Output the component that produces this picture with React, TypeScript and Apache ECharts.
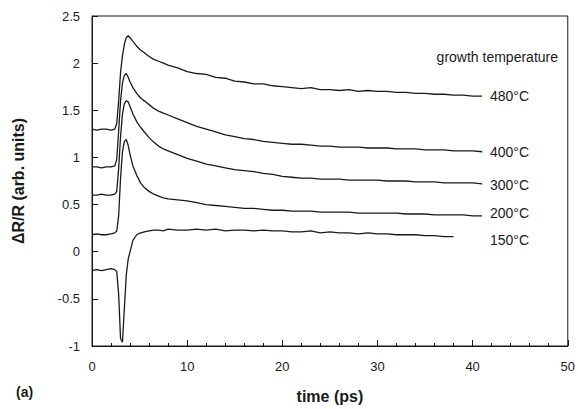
import React, { useEffect, useRef } from "react";
import * as echarts from "echarts";

const time = [0, 0.5, 1, 1.5, 2, 2.4, 2.6, 2.8, 3.0, 3.2, 3.4, 3.6, 3.8, 4.0, 4.3, 4.7, 5.1, 5.5, 6, 6.5, 7, 7.5, 8, 9, 10,
  11, 12, 13, 14, 15, 16, 17, 18, 19, 20, 21, 22, 23, 24, 25, 26, 27, 28, 29, 30, 31, 32, 33, 34, 35, 36, 37, 38, 39, 40, 41];

const r480 = [1.30, 1.29, 1.30, 1.30, 1.29,
  1.30, 1.36, 1.60, 1.90, 2.08, 2.20, 2.27, 2.29, 2.27, 2.23, 2.18, 2.14, 2.11, 2.07, 2.04, 2.02, 2.00, 1.98, 1.95, 1.91,
  1.89, 1.88, 1.85, 1.84, 1.81, 1.80, 1.78, 1.78, 1.76, 1.75, 1.74, 1.73, 1.74, 1.72, 1.72, 1.71, 1.72, 1.70, 1.71, 1.70, 1.70, 1.69, 1.69, 1.68, 1.68, 1.67, 1.67, 1.66, 1.66, 1.65, 1.65];

const r400 = [0.90, 0.90, 0.89, 0.90, 0.90,
  0.91, 0.98, 1.28, 1.60, 1.79, 1.87, 1.89, 1.85, 1.80, 1.74, 1.68, 1.63, 1.60, 1.56, 1.52, 1.49, 1.47, 1.45, 1.41, 1.37,
  1.33, 1.30, 1.27, 1.24, 1.22, 1.20, 1.19, 1.17, 1.16, 1.15, 1.14, 1.14, 1.13, 1.12, 1.12, 1.11, 1.11, 1.11, 1.10, 1.10, 1.10, 1.09, 1.09, 1.09, 1.08, 1.08, 1.08, 1.07, 1.07, 1.07, 1.06];

const r300 = [0.60, 0.60, 0.61, 0.60, 0.60,
  0.61, 0.64, 0.88, 1.22, 1.46, 1.57, 1.60, 1.59, 1.54, 1.46, 1.38, 1.32, 1.27, 1.21, 1.16, 1.12, 1.09, 1.07, 1.03, 0.99,
  0.96, 0.93, 0.91, 0.89, 0.87, 0.86, 0.85, 0.83, 0.82, 0.80, 0.79, 0.78, 0.78, 0.77, 0.77, 0.77, 0.76, 0.76, 0.76, 0.76, 0.75, 0.75, 0.75, 0.74, 0.74, 0.74, 0.73, 0.73, 0.73, 0.73, 0.72];

const r200 = [0.18, 0.19, 0.18, 0.18, 0.19,
  0.20, 0.22, 0.38, 0.78, 1.06, 1.17, 1.19, 1.13, 1.03, 0.91, 0.81, 0.73, 0.68, 0.64, 0.61, 0.59, 0.57, 0.56, 0.55, 0.54,
  0.52, 0.50, 0.49, 0.48, 0.47, 0.46, 0.46, 0.45, 0.44, 0.44, 0.43, 0.43, 0.43, 0.42, 0.42, 0.42, 0.42, 0.41, 0.41, 0.41, 0.41, 0.41, 0.40, 0.40, 0.40, 0.39, 0.39, 0.39, 0.39, 0.38, 0.38];

const r150 = [-0.20, -0.19, -0.20, -0.19, -0.18,
  -0.19, -0.21, -0.45, -0.92, -0.96, -0.60, -0.25, -0.08, 0.00, 0.12, 0.18, 0.20, 0.21, 0.22, 0.23, 0.23, 0.22, 0.24, 0.23, 0.23,
  0.24, 0.23, 0.24, 0.22, 0.23, 0.23, 0.22, 0.23, 0.22, 0.22, 0.21, 0.21, 0.22, 0.20, 0.21, 0.20, 0.20, 0.19, 0.20, 0.19, 0.19, 0.18, 0.18, 0.18, 0.17, 0.17, 0.16, 0.16, null, null, null];

const seriesNames = ["480°C", "400°C", "300°C", "200°C", "150°C"];
const seriesValues = [r480, r400, r300, r200, r150];
const legendTitle = "growth temperature";
const panelLabel = "(a)";

const FONT = "'Liberation Sans', Arial, Helvetica, sans-serif";
const INK = "#1a1a1a";

export default function App() {
  const ref = useRef<HTMLDivElement>(null);
  useEffect(() => {
    if (!ref.current) return;
    const chart = echarts.init(ref.current, null, { renderer: "svg" });
    const labelY = [97, 153, 186, 214, 241];
    chart.setOption({
      animation: false,
      backgroundColor: "#ffffff",
      grid: { left: 92, right: 10, top: 16, bottom: 56, show: true, borderColor: INK, borderWidth: 1 },
      xAxis: {
        type: "value", min: 0, max: 50, interval: 10,
        name: "time (ps)", nameLocation: "middle", nameGap: 42,
        nameTextStyle: { fontFamily: FONT, fontSize: 16, fontWeight: "bold", color: INK },
        axisLine: { show: true, onZero: false, lineStyle: { color: INK, width: 1 } },
        axisTick: { show: true, inside: true, length: 6, lineStyle: { color: INK } },
        minorTick: { show: true, splitNumber: 5, length: 3, lineStyle: { color: INK } },
        axisLabel: { fontFamily: FONT, fontSize: 13, color: INK, margin: 14 },
        splitLine: { show: false },
      },
      yAxis: {
        type: "value", min: -1, max: 2.5, interval: 0.5,
        name: "ΔR/R (arb. units)", nameLocation: "middle", nameGap: 66,
        nameTextStyle: { fontFamily: FONT, fontSize: 16, fontWeight: "bold", color: INK },
        axisLine: { show: true, onZero: false, lineStyle: { color: INK, width: 1 } },
        axisTick: { show: true, inside: true, length: 6, lineStyle: { color: INK } },
        axisLabel: { fontFamily: FONT, fontSize: 13, color: INK, margin: 12 },
        splitLine: { show: false },
      },
      series: seriesValues.map((vals, i) => ({
        name: seriesNames[i],
        type: "line",
        showSymbol: false,
        connectNulls: false,
        lineStyle: { color: INK, width: 1.3 },
        data: time.map((t, k) => [t, vals[k]]),
      })),
      graphic: [
        { type: "text", right: 20, top: 50, style: { text: legendTitle, font: `14px ${FONT}`, fill: INK } },
        ...seriesNames.map((n, i) => ({
          type: "text", left: 490, top: labelY[i] - 8,
          style: { text: n, font: `14px ${FONT}`, fill: INK },
        })),
        { type: "text", left: 16, top: 385, style: { text: panelLabel, font: `bold 14px ${FONT}`, fill: INK } },
      ],
    });
    return () => chart.dispose();
  }, []);
  return <div ref={ref} style={{ position: "fixed", left: 0, top: 0, width: 578, height: 409 }} />;
}
